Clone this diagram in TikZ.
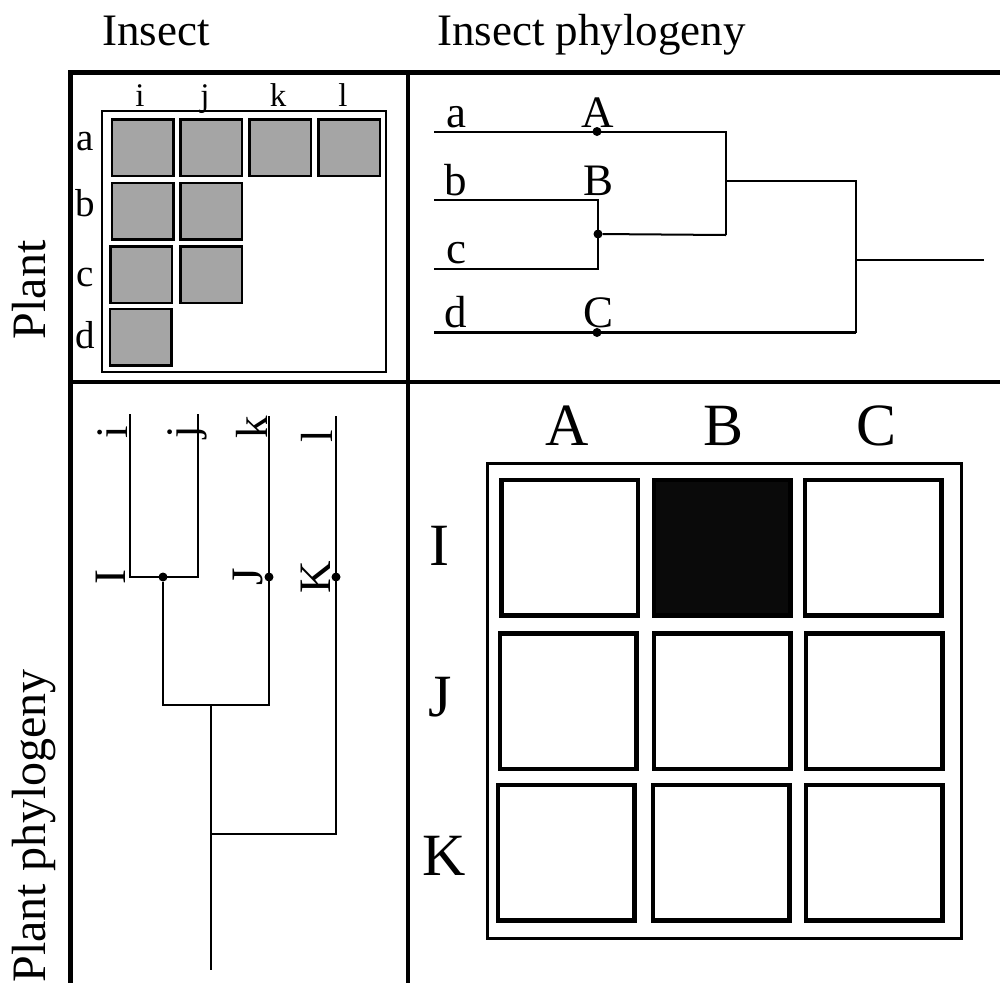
\documentclass[tikz,border=0pt]{standalone}
\usepackage{fontspec}
\setmainfont{Liberation Serif}
\definecolor{cellgray}{HTML}{A5A5A5}
\definecolor{cellblack}{HTML}{0A0A0A}
\begin{document}
\begin{tikzpicture}[x=1pt,y=-1pt,
  frame/.style={line width=5pt},
  divider/.style={line width=3.5pt},
  branch/.style={line width=2pt},
  thickbranch/.style={line width=3.5pt},
  dot/.style={circle,fill=black,inner sep=0pt,minimum size=9pt},
  gcell/.style={draw=black,line width=2.5pt,fill=cellgray,minimum width=61.5pt,minimum height=56.5pt,inner sep=0pt},
  bcell/.style={draw=black,line width=4.5pt,fill=white,minimum width=136.5pt,minimum height=135.5pt,inner sep=0pt},
  title/.style={font=\fontsize{45}{50}\selectfont,inner sep=0pt},
  lab/.style={font=\fontsize{45}{50}\selectfont,inner sep=0pt,anchor=base},
  smalllab/.style={font=\fontsize{33}{36}\selectfont,inner sep=0pt,anchor=base},
  rowlab/.style={font=\fontsize{39}{42}\selectfont,inner sep=0pt,anchor=base},
  biglab/.style={font=\fontsize{60}{64}\selectfont,inner sep=0pt,anchor=base},
  vlab/.style={font=\fontsize{45}{50}\selectfont,inner sep=0pt,anchor=base,rotate=90},
  vtitle/.style={font=\fontsize{48}{52}\selectfont,inner sep=0pt,anchor=base,rotate=90}]
\useasboundingbox (0,0) rectangle (1000,983);

% ---- headings ----
\node[title,anchor=base west] (hInsect) at (102,45) {Insect};
\node[title,anchor=base west] (hInsectPhy) at (437,45) {Insect phylogeny};
\node[vtitle] (hPlant) at (45,290) {Plant};
\node[vtitle] (hPlantPhy) at (45,826) {Plant phylogeny};

% ---- frame ----
\coordinate (fTR) at (1000,72);
\coordinate (fTL) at (70,72);
\coordinate (fBL) at (70,983);
\coordinate (mT) at (408,72);
\coordinate (mB) at (408,983);
\coordinate (mL) at (70,382);
\coordinate (mR) at (1000,382);
\draw[frame] (fTR) -- (fTL) -- (fBL);
\draw[divider] (mT) -- (mB);
\draw[divider] (mL) -- (mR);

% ---- insect x plant association matrix ----
\node[draw,line width=2pt,minimum width=284pt,minimum height=261pt,inner sep=0pt] (assoc) at (244,241.5) {};
\node[gcell] (ai) at (142.5,147.5) {};
\node[gcell] (aj) at (211,147.5) {};
\node[gcell] (ak) at (280,147.5) {};
\node[gcell] (al) at (349,147.5) {};
\node[gcell] (bi) at (142.5,211) {};
\node[gcell] (bj) at (211,211) {};
\node[gcell] (ci) at (141,274.5) {};
\node[gcell] (cj) at (211,274.5) {};
\node[gcell] (di) at (140.5,337) {};
\node[smalllab] (ci-lab) at (140,106) {i};
\node[smalllab] (cj-lab) at (205,106) {j};
\node[smalllab] (ck-lab) at (278,106) {k};
\node[smalllab] (cl-lab) at (343,106) {l};
\node[rowlab] (ra-lab) at (85,150) {a};
\node[rowlab] (rb-lab) at (85,216) {b};
\node[rowlab] (rc-lab) at (85,286) {c};
\node[rowlab] (rd-lab) at (85,348) {d};

% ---- insect phylogeny ----
\coordinate (a0) at (434,131.5);
\coordinate (a1) at (726,131.5);
\coordinate (abc) at (726,181);
\coordinate (bcj) at (726,235);
\coordinate (b0) at (434,199.5);
\coordinate (b1) at (598,199.5);
\coordinate (c0) at (434,268.5);
\coordinate (c1) at (598,268.5);
\coordinate (r1) at (856,181);
\coordinate (rj) at (856,260);
\coordinate (rend) at (984,260);
\coordinate (d0) at (434,332.5);
\coordinate (d1) at (856,332.5);
\draw[branch] (a0) -- (a1) -- (bcj);
\draw[branch] (b0) -- (b1) -- (c1) -- (c0);
\draw[thickbranch] (d0) -- (d1);
\draw[branch] (abc) -- (r1) -- (d1);
\draw[branch] (rj) -- (rend);
\node[dot] (nA) at (597,131.5) {};
\node[dot] (nB) at (598,234) {};
\node[dot] (nC) at (597,332.5) {};
\draw[branch] (nB) -- (bcj);
\node[lab] (la) at (456,127) {a};
\node[lab] (lA) at (598,127) {A};
\node[lab] (lb) at (456,195) {b};
\node[lab] (lB) at (598,195) {B};
\node[lab] (lc) at (456,263) {c};
\node[lab] (ld) at (456,327) {d};
\node[lab] (lC) at (598,327) {C};

% ---- plant phylogeny ----
\coordinate (itop) at (130,414);
\coordinate (ibot) at (130,577);
\coordinate (jtop) at (198,414);
\coordinate (jbot) at (198,577);
\coordinate (IJ) at (163,705);
\coordinate (ktop) at (269,416);
\coordinate (kbot) at (269,705);
\coordinate (rtop) at (211,705);
\coordinate (rK) at (211,834);
\coordinate (rbot) at (211,970);
\coordinate (ltop) at (336,416);
\coordinate (lbot) at (336,834);
\draw[branch] (itop) -- (ibot) -- (jbot) -- (jtop);
\node[dot] (nI) at (163,577) {};
\draw[branch] (nI) -- (IJ) -- (kbot) -- (ktop);
\draw[branch] (rtop) -- (rbot);
\draw[branch] (rK) -- (lbot) -- (ltop);
\node[dot] (nJ) at (269,577) {};
\node[dot] (nK) at (336,577) {};
\node[vlab] (li) at (127,432) {i};
\node[vlab] (lj) at (197,432) {j};
\node[vlab] (lk) at (267,427) {k};
\node[vlab] (ll) at (332,436) {l};
\node[vlab] (lI) at (125,577) {I};
\node[vlab] (lJ) at (262,577) {J};
\node[vlab] (lK) at (330,577) {K};

% ---- clade x clade matrix ----
\node[draw,line width=3pt,minimum width=474pt,minimum height=475pt,inner sep=0pt] (cmat) at (724.5,701) {};
\node[bcell] (IA) at (569.5,547.5) {};
\node[bcell,fill=cellblack] (IB) at (722,547.5) {};
\node[bcell] (IC) at (873,547.5) {};
\node[bcell] (JA) at (568,701) {};
\node[bcell] (JB) at (722,701) {};
\node[bcell] (JC) at (874,701) {};
\node[bcell] (KA) at (566,852.5) {};
\node[bcell] (KB) at (721,852.5) {};
\node[bcell] (KC) at (874,852.5) {};
\node[biglab] (hA) at (567,445) {A};
\node[biglab] (hB) at (723,445) {B};
\node[biglab] (hC) at (876,445) {C};
\node[biglab] (hI) at (439,565) {I};
\node[biglab] (hJ) at (440,716) {J};
\node[biglab] (hK) at (444,875) {K};
\end{tikzpicture}
\end{document}
